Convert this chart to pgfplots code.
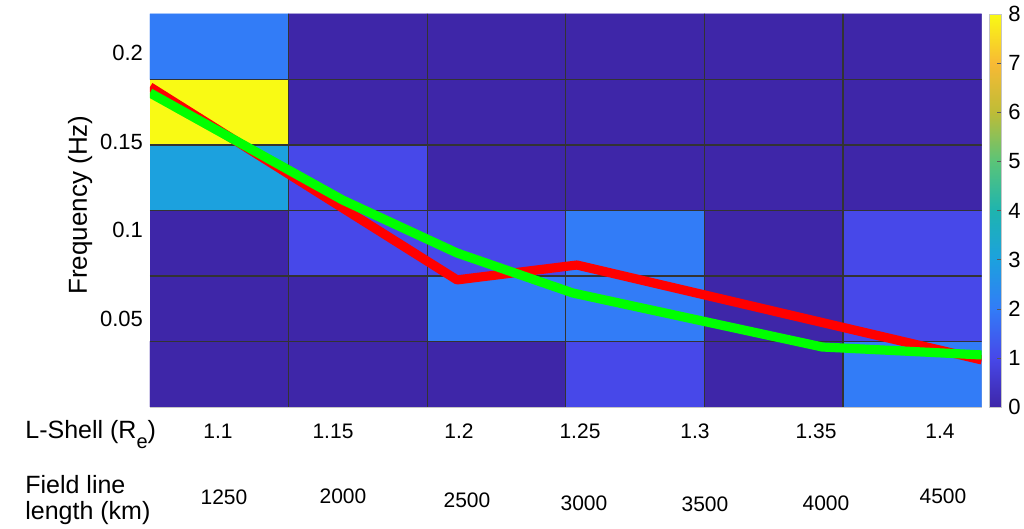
\documentclass[border=0pt]{standalone}
\usepackage{fontspec}
\setmainfont{Liberation Sans}
\usepackage{graphicx}
\usepackage{pgfplots}
\pgfplotsset{compat=1.18}
\pgfplotsset{/pgf/number format/assume math mode=true}

% occurrence counts per L-shell column and frequency bin (x centre, y centre, count)
\pgfplotstableread{
x    y       c
0.5  0.0185  0
1.5  0.0185  0
2.5  0.0185  0
3.5  0.0185  1
4.5  0.0185  0
5.5  0.0185  2
0.5  0.0555  0
1.5  0.0555  0
2.5  0.0555  2
3.5  0.0555  2
4.5  0.0555  0
5.5  0.0555  1
0.5  0.0925  0
1.5  0.0925  1
2.5  0.0925  1
3.5  0.0925  2
4.5  0.0925  0
5.5  0.0925  1
0.5  0.1295  3
1.5  0.1295  1
2.5  0.1295  0
3.5  0.1295  0
4.5  0.1295  0
5.5  0.1295  0
0.5  0.1665  8
1.5  0.1665  0
2.5  0.1665  0
3.5  0.1665  0
4.5  0.1665  0
5.5  0.1665  0
0.5  0.2035  2
1.5  0.2035  0
2.5  0.2035  0
3.5  0.2035  0
4.5  0.2035  0
5.5  0.2035  0
}\counts

\pgfplotstableread{
x      y
0      0.1808
2.215  0.0718
3.08   0.0802
6.0    0.0266
}\redline

\pgfplotstableread{
x      y
0      0.1774
1.39   0.1169
2.215  0.0870
3.05   0.0644
4.85   0.0339
6.0    0.0294
}\greenline

\begin{document}
\begin{tikzpicture}
\useasboundingbox (-75pt,7pt) rectangle (437pt,-257.5pt);
\begin{axis}[
  at={(0,0)}, anchor=north west,
  scale only axis,
  width=415.85pt, height=196.5pt,
  xmin=0, xmax=6, ymin=0, ymax=0.222,
  enlargelimits=false,
  y dir=normal,
  xtick=\empty,
  ytick={0.05,0.1,0.15,0.2},
  yticklabels={0.05,0.1,0.15,0.2},
  major tick length=0pt,
  axis line style={draw=gray!45},
  yticklabel style={font=\fontsize{11}{13}\selectfont},
  ylabel={Frequency (Hz)},
  ylabel style={font=\fontsize{13}{15}\selectfont, at={(axis description cs:-0.084,0.514)}, anchor=center},
  colormap={parula}{rgb255=(62,38,168) rgb255=(71,72,233) rgb255=(50,124,247) rgb255=(28,161,222) rgb255=(30,180,175) rgb255=(90,196,120) rgb255=(190,188,55) rgb255=(248,186,52) rgb255=(249,250,20)},
  point meta min=0, point meta max=8,
  colorbar,
  colorbar shift/.style={xshift=3.6pt},
  colorbar style={
    width=6pt,
    ytick={0,1,...,8},
    yticklabel style={font=\fontsize{11}{13}\selectfont},
    axis line style={draw=gray!45},
    major tick length=2pt,
    tick align=inside,
    ytick pos=right,
    tick style={draw=gray!70!black},
  },
]
\addplot[matrix plot*, mesh/cols=6, point meta=explicit, y dir=normal]
  table[x=x, y=y, meta=c] {\counts};
% cell borders
\foreach \i in {1,...,5} {
  \edef\tmp{\noexpand\draw[black!80, line width=0.6pt] (axis cs:\i,0) -- (axis cs:\i,0.222);}
  \tmp
}
\foreach \j in {0.037,0.074,0.111,0.148,0.185} {
  \edef\tmp{\noexpand\draw[black!80, line width=0.6pt] (axis cs:0,\j) -- (axis cs:6,\j);}
  \tmp
}
\addplot[draw={rgb,255:red,255;green,0;blue,0}, line width=4.6pt, line join=round] table[x=x,y=y] {\redline};
\addplot[draw={rgb,255:red,0;green,255;blue,0}, line width=4.6pt, line join=round] table[x=x,y=y] {\greenline};
\end{axis}

% row labels under the map
\begin{scope}[shift={(-75pt,7pt)}, x=0.5pt, y=-0.5pt]
  \node[anchor=base west, inner sep=0pt, font=\fontsize{12.5}{14}\selectfont] at (25,439) {L-Shell (R\raisebox{-0.38em}{\fontsize{10}{12}\selectfont e})};
  \node[anchor=base west, inner sep=0pt, font=\fontsize{12.5}{14}\selectfont] at (25,494) {Field line};
  \node[anchor=base west, inner sep=0pt, font=\fontsize{12.5}{14}\selectfont] at (25,520) {length (km)};
  \begin{scope}[every node/.style={anchor=base, inner sep=0pt, font=\fontsize{10.5}{12}\selectfont}]
    \node at (218,439) {1.1};
    \node at (333,439) {1.15};
    \node at (459,439) {1.2};
    \node at (580,439) {1.25};
    \node at (695,439) {1.3};
    \node at (816,439) {1.35};
    \node at (940,439) {1.4};
    \node at (224,505) {1250};
    \node at (343,503) {2000};
    \node at (467,508) {2500};
    \node at (584,510) {3000};
    \node at (705,511) {3500};
    \node at (826,510) {4000};
    \node at (943,503) {4500};
  \end{scope}
\end{scope}
\end{tikzpicture}
\end{document}
